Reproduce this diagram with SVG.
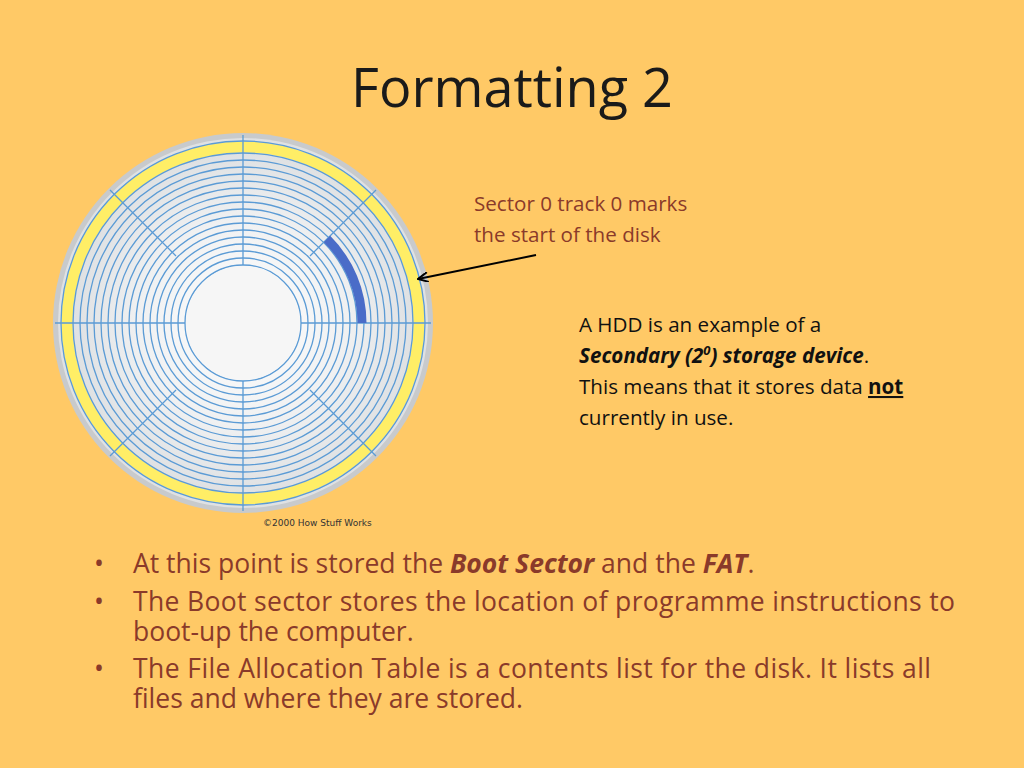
<svg xmlns="http://www.w3.org/2000/svg" width="1024" height="768" viewBox="0 0 1024 768">
<defs>
<radialGradient id="metal" cx="0.5" cy="0.5" r="0.5">
<stop offset="0" stop-color="#ffffff"/><stop offset="0.6" stop-color="#f0f1f2"/><stop offset="1" stop-color="#dfe1e3"/>
</radialGradient>
<marker id="ah" markerWidth="12" markerHeight="10" refX="11" refY="5" orient="auto" markerUnits="userSpaceOnUse"><path d="M1,0 L11,5 L1,10" fill="none" stroke="#000" stroke-width="2"/></marker>
</defs>
<style>
.t{font-family:"Open Sans","Noto Sans",sans-serif;fill:#8a3a2a}
.trk{fill:none;stroke:#5b9bd5;stroke-width:1.3}
</style>
<rect width="1024" height="768" fill="#ffc966"/>
<text x="512" y="107" text-anchor="middle" font-family="Open Sans,Noto Sans,sans-serif" font-size="54" fill="#1a1a1a">Formatting 2</text>
<g id="disk">
<circle cx="243" cy="323" r="190" fill="#c8cacc"/>
<circle cx="243" cy="323" r="185" fill="url(#metal)"/>
<circle cx="243" cy="323" r="176" fill="none" stroke="#ffee66" stroke-width="11"/>
<circle cx="243" cy="323" r="170" fill="url(#metal)"/>
<g class="trk">
<circle cx="243" cy="323" r="182"/><circle cx="243" cy="323" r="170"/><circle cx="243" cy="323" r="163"/><circle cx="243" cy="323" r="156"/><circle cx="243" cy="323" r="149"/><circle cx="243" cy="323" r="142"/><circle cx="243" cy="323" r="135"/><circle cx="243" cy="323" r="128"/><circle cx="243" cy="323" r="121"/><circle cx="243" cy="323" r="114"/><circle cx="243" cy="323" r="107"/><circle cx="243" cy="323" r="100"/><circle cx="243" cy="323" r="93"/><circle cx="243" cy="323" r="86"/><circle cx="243" cy="323" r="79"/><circle cx="243" cy="323" r="72"/><circle cx="243" cy="323" r="65"/><circle cx="243" cy="323" r="58"/>
<path d="M243,135 V265 M243,381 V511 M55,323 H185 M301,323 H431 M376,190 L310,256 M110,190 L176,256 M110,456 L176,390 M376,456 L310,390"/>
</g>
<circle cx="243" cy="323" r="57" fill="#f6f6f6"/>
<path d="M362,323 A119,119 0 0 0 327,239" fill="none" stroke="#4a6cc8" stroke-width="9"/>
<text x="263" y="526" font-family="DejaVu Sans,sans-serif" font-size="9" fill="#333">©2000 How Stuff Works</text>
</g>
<g id="connectors">
<line x1="536" y1="255" x2="418" y2="279" stroke="#000" stroke-width="2" marker-end="url(#ah)"/>
</g>
<g id="label1"><text class="t" font-size="20.6"><tspan x="474" y="211">Sector 0 track 0 marks</tspan><tspan x="474" y="242">the start of the disk</tspan></text></g>
<g id="label2"><text font-family="Open Sans,Noto Sans,sans-serif" font-size="20.6" fill="#111">
<tspan x="579" y="332">A HDD is an example of a</tspan>
<tspan x="579" y="363" font-weight="bold" font-style="italic">Secondary (2<tspan font-size="13" dy="-8">0</tspan><tspan dy="8">) storage device</tspan></tspan><tspan>.</tspan>
<tspan x="579" y="394">This means that it stores data <tspan font-weight="bold" text-decoration="underline">not</tspan></tspan>
<tspan x="579" y="425">currently in use.</tspan></text></g>
<g id="bullets"><text class="t" font-size="26.5">
<tspan x="94" y="573">•</tspan><tspan x="133" y="573">At this point is stored the <tspan font-weight="bold" font-style="italic">Boot Sector</tspan> and the <tspan font-weight="bold" font-style="italic">FAT</tspan>.</tspan>
<tspan x="94" y="611">•</tspan><tspan x="133" y="611" textLength="822">The Boot sector stores the location of programme instructions to</tspan>
<tspan x="133" y="641">boot-up the computer.</tspan>
<tspan x="94" y="678">•</tspan><tspan x="133" y="678" textLength="798">The File Allocation Table is a contents list for the disk.  It lists all</tspan>
<tspan x="133" y="708">files and where they are stored.</tspan></text></g>
</svg>
